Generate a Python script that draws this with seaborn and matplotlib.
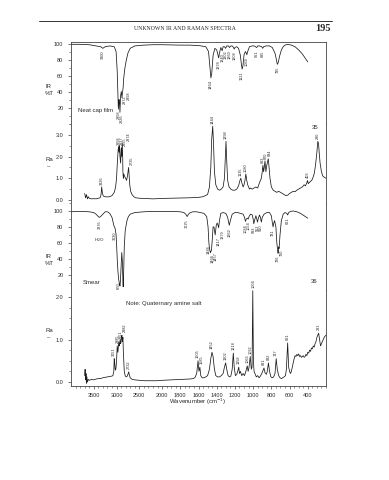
import numpy as np
import pandas as pd
import matplotlib
matplotlib.use("Agg")
import matplotlib.pyplot as plt
from matplotlib.lines import Line2D
from matplotlib.ticker import MultipleLocator, FixedLocator, NullFormatter
from matplotlib.transforms import offset_copy
import seaborn as sns

sns.set_theme(style="white")
plt.rcParams['font.family'] = ['Liberation Sans', 'DejaVu Sans']

# ---------------- data ----------------
# Spectrum 35, IR neat cap film (%T)
ir1_w = [4000, 3800, 3600, 3450, 3350, 3300, 3250, 3150, 3050, 3010, 2985, 2960, 2945, 2935, 2925, 2910,
         2895, 2880, 2872, 2862, 2855, 2845, 2820, 2790, 2750, 2700, 2600, 2400, 2200, 2000, 1800, 1700,
         1600, 1520, 1490, 1470, 1464, 1455, 1440, 1420, 1400, 1385, 1378, 1370, 1355, 1340, 1330, 1315,
         1302, 1290, 1270, 1260, 1245, 1230, 1215, 1208, 1200, 1180, 1160, 1140, 1130, 1121, 1112, 1100,
         1085, 1075, 1069, 1060, 1040, 1010, 990, 975, 961, 950, 930, 905, 895, 885, 860, 820, 790, 760,
         745, 735, 725, 710, 690, 670, 650, 620, 580, 540, 500, 460, 430, 400]
ir1_t = [99, 99, 98.5, 97, 96, 94, 96, 97, 96, 90, 65, 18, 30, 25, 14, 35,
         40, 32, 38, 42, 45, 55, 68, 78, 88, 94, 97, 98, 98.5, 98.5, 98, 98,
         97.5, 96, 90, 65, 57, 62, 85, 94, 92, 85, 82, 88, 95, 91, 96, 96,
         94, 97, 97, 95, 97, 97, 95, 93, 95, 96, 94, 85, 75, 68, 72, 86,
         90, 88, 86, 90, 96, 97, 97, 96, 95, 97, 97, 96, 94, 96, 97, 97, 95, 88,
         80, 74, 76, 84, 92, 96, 98, 99, 98, 96, 92, 87, 82, 77]
ir1_labels = [3300, 2958, 2926, 2872, 2858, 1464, 1378, 1340, 1302, 1260, 1208, 1121, 1069, 961, 895, 735]

# Spectrum 35, Raman
ra1_w = [3700, 3680, 3660, 3640, 3620, 3600, 3550, 3500, 3450, 3400, 3360, 3340, 3326, 3310, 3290, 3250,
         3200, 3150, 3100, 3050, 3020, 3000, 2985, 2965, 2955, 2945, 2935, 2925, 2910, 2900, 2895, 2885,
         2874, 2865, 2860, 2850, 2840, 2825, 2800, 2780, 2760, 2740, 2735, 2725, 2710, 2690, 2660, 2620,
         2580, 2500, 2400, 2300, 2200, 2100, 2000, 1900, 1800, 1700, 1600, 1550, 1500, 1480, 1465, 1455,
         1444, 1435, 1425, 1410, 1390, 1370, 1350, 1330, 1315, 1305, 1298, 1290, 1280, 1265, 1245, 1225,
         1200, 1180, 1160, 1145, 1135, 1125, 1110, 1100, 1090, 1080, 1070, 1060, 1050, 1040, 1030, 1010,
         990, 970, 950, 930, 910, 900, 893, 885, 878, 870, 860, 850, 840, 834, 825, 815, 800, 780, 760,
         740, 720, 700, 680, 660, 640, 620, 600, 580, 560, 540, 520, 500, 480, 460, 440, 425, 410, 403,
         395, 385, 370, 350, 330, 315, 300, 290, 282, 275, 265, 250, 235, 220, 200]
ra1_i = [0.3, 0.1, 0.25, 0.05, 0.15, 0.08, 0.05, 0.06, 0.05, 0.08, 0.1, 0.25, 0.6, 0.3, 0.18, 0.15,
         0.14, 0.15, 0.2, 0.35, 0.6, 1.0, 1.6, 2.3, 2.45, 2.2, 2.5, 2.0, 1.7, 2.3, 2.4, 2.0,
         2.6, 2.0, 1.3, 1.0, 1.2, 1.1, 1.0, 0.9, 1.1, 1.4, 1.5, 1.2, 0.7, 0.4, 0.25, 0.15,
         0.1, 0.08, 0.07, 0.06, 0.05, 0.06, 0.07, 0.08, 0.09, 0.1, 0.12, 0.15, 0.25, 0.6, 1.5, 2.8,
         3.4, 2.6, 1.3, 0.7, 0.5, 0.45, 0.5, 0.6, 1.0, 2.0, 2.7, 1.8, 0.9, 0.6, 0.5, 0.45,
         0.45, 0.5, 0.65, 0.9, 1.0, 0.8, 0.6, 0.7, 0.9, 1.2, 0.9, 0.7, 0.6, 0.5, 0.55, 0.5,
         0.55, 0.6, 0.55, 0.8, 1.0, 1.3, 1.6, 1.3, 1.5, 1.8, 1.3, 1.6, 1.8, 1.9, 1.5, 1.0, 0.6, 0.45, 0.4,
         0.35, 0.4, 0.35, 0.3, 0.25, 0.2, 0.22, 0.3, 0.35, 0.4, 0.38, 0.45, 0.5, 0.55, 0.6, 0.7, 0.65, 0.8, 0.9,
         0.75, 0.8, 0.85, 0.95, 1.2, 1.6, 2.2, 2.7, 2.6, 2.2, 1.7, 1.3, 1.1, 1.05, 1.0]
ra1_labels = [3326, 2958, 2937, 2895, 2874, 2735, 1444, 1298, 1135, 1080, 893, 870, 834, 403, 290]

# Spectrum 36, IR smear (%T)
ir2_w = [4000, 3800, 3600, 3500, 3450, 3400, 3376, 3350, 3300, 3250, 3200, 3150, 3100, 3060, 3030, 3010,
         3000, 2985, 2970, 2955, 2940, 2930, 2924, 2915, 2900, 2885, 2870, 2860, 2854, 2845, 2830, 2810,
         2790, 2770, 2740, 2700, 2600, 2400, 2200, 2000, 1900, 1800, 1760, 1740, 1725, 1710, 1690, 1660,
         1620, 1580, 1540, 1510, 1495, 1486, 1478, 1470, 1466, 1460, 1457, 1450, 1440, 1430, 1417, 1405,
         1395, 1385, 1379, 1370, 1355, 1330, 1300, 1280, 1262, 1250, 1230, 1200, 1170, 1140, 1110, 1095,
         1084, 1075, 1060, 1054, 1045, 1030, 1010, 1000, 993, 985, 970, 960, 952, 945, 930, 920, 910, 900,
         880, 850, 820, 800, 790, 781, 775, 765, 750, 740, 730, 726, 722, 720, 715, 705, 690, 670, 650,
         630, 621, 610, 590, 560, 520, 480, 440, 400]
ir2_t = [99, 99.5, 99, 98, 96, 93, 92, 93, 96, 99, 99, 97, 92, 82, 78, 70,
         60, 40, 25, 15, 10, 7, 6, 12, 30, 48, 35, 12, 5, 20, 55, 75,
         82, 88, 93, 96, 98, 99, 99.5, 99.5, 99.5, 99, 98, 96, 93, 96, 98, 99,
         99, 98, 97, 93, 80, 60, 52, 48, 49, 50, 52, 62, 80, 80, 70, 82,
         85, 82, 79, 88, 97, 98, 97, 92, 82, 88, 96, 98, 98, 97, 96, 92,
         87, 90, 91, 90, 93, 96, 95, 90, 84, 88, 94, 90, 86, 90, 95, 92, 86, 92,
         96, 98, 98, 94, 86, 80, 84, 88, 80, 60, 50, 47, 52, 55, 53, 70, 88, 96, 98,
         97, 95, 98, 99.5, 100, 99, 97, 94, 91]
ir2_labels = [3376, 3030, 2955, 2924, 2854, 1725, 1486, 1466, 1457, 1417, 1379, 1262, 1084, 1054, 993,
              952, 910, 781, 726, 720, 621]

# Spectrum 36, Raman
ra2_w = [3700, 3690, 3680, 3670, 3660, 3650, 3640, 3620, 3600, 3550, 3500, 3450, 3400, 3350, 3300, 3250,
         3200, 3150, 3100, 3080, 3060, 3051, 3040, 3030, 3020, 3010, 3000, 2985, 2970, 2960, 2951, 2940,
         2930, 2920, 2910, 2900, 2890, 2882, 2870, 2860, 2850, 2830, 2810, 2790, 2770, 2750, 2732, 2720,
         2700, 2680, 2650, 2600, 2500, 2400, 2300, 2200, 2100, 2000, 1900, 1800, 1700, 1660, 1640, 1620,
         1605, 1595, 1585, 1575, 1560, 1540, 1520, 1500, 1480, 1465, 1452, 1440, 1425, 1410, 1390, 1370,
         1350, 1330, 1315, 1302, 1290, 1275, 1260, 1245, 1230, 1218, 1208, 1195, 1180, 1170, 1158, 1150,
         1140, 1125, 1110, 1095, 1080, 1065, 1055, 1045, 1032, 1020, 1012, 1004, 997, 990, 980, 965, 950,
         935, 920, 905, 890, 881, 870, 855, 845, 832, 820, 805, 790, 775, 760, 747, 735, 720, 705, 690,
         675, 660, 645, 635, 621, 610, 600, 590, 580, 570, 560, 550, 540, 530, 520, 510, 500, 490, 480,
         470, 460, 450, 440, 430, 420, 410, 400, 390, 380, 370, 360, 350, 340, 330, 320, 310, 300, 290,
         281, 270, 260, 250, 240, 230, 220, 210, 200]
ra2_i = [0.15, 0.3, 0.05, 0.2, -0.03, 0.12, 0.0, 0.06, 0.04, 0.06, 0.05, 0.07, 0.08, 0.08, 0.1, 0.11,
         0.12, 0.13, 0.14, 0.15, 0.25, 0.55, 0.45, 0.3, 0.28, 0.35, 0.5, 0.85, 0.7, 0.85, 0.95, 0.85,
         0.9, 1.0, 0.9, 0.95, 1.05, 1.1, 0.95, 1.05, 0.7, 0.25, 0.15, 0.12, 0.13, 0.18, 0.24, 0.17,
         0.1, 0.08, 0.06, 0.05, 0.04, 0.03, 0.03, 0.03, 0.03, 0.04, 0.05, 0.06, 0.07, 0.08, 0.1, 0.2,
         0.5, 0.25, 0.35, 0.15, 0.1, 0.1, 0.12, 0.15, 0.3, 0.55, 0.7, 0.6, 0.3, 0.15, 0.12, 0.12,
         0.15, 0.2, 0.35, 0.45, 0.3, 0.15, 0.12, 0.14, 0.3, 0.68, 0.35, 0.15, 0.18, 0.25, 0.35, 0.2,
         0.25, 0.15, 0.2, 0.15, 0.25, 0.38, 0.25, 0.35, 0.6, 0.3, 0.35, 2.15, 0.5, 0.25, 0.2, 0.12, 0.15,
         0.1, 0.14, 0.2, 0.28, 0.33, 0.22, 0.18, 0.25, 0.45, 0.25, 0.12, 0.1, 0.12, 0.2, 0.55, 0.3, 0.15, 0.1, 0.08,
         0.1, 0.12, 0.15, 0.3, 0.92, 0.35, 0.25, 0.2, 0.25, 0.35, 0.45, 0.55, 0.62, 0.6, 0.65, 0.62, 0.66, 0.6, 0.62,
         0.58, 0.6, 0.62, 0.58, 0.6, 0.65, 0.62, 0.7, 0.68, 0.75, 0.72, 0.8, 0.78, 0.85, 0.82, 0.9, 0.95, 1.05, 1.1,
         1.15, 1.0, 0.85, 0.9, 0.95, 1.0, 1.05, 1.08, 1.1]
ra2_labels = [3051, 2985, 2951, 2882, 2732, 1605, 1585, 1452, 1302, 1218, 1158, 1065, 1032, 1004,
              881, 832, 747, 621, 281]

x_ticks = [3500, 3000, 2500, 2000, 1800, 1600, 1400, 1200, 1000, 800, 600, 400]

# ---------------- figure ----------------
W, H = 389, 480
fig = plt.figure(figsize=(W / 100, H / 100), dpi=100)
fig.patch.set_facecolor('white')


def fwd(w):
    w = np.asarray(w, dtype=float)
    return np.where(w > 2000, 2000 + (w - 2000) / 2.0, w)


def inv(u):
    u = np.asarray(u, dtype=float)
    return np.where(u > 2000, 2000 + (u - 2000) * 2.0, u)


def px_axes(top, bottom):
    left, right = 71, 326
    return fig.add_axes([left / W, 1 - bottom / H, (right - left) / W, (bottom - top) / H])


ink = '#1a1a1a'
txt = '#2a2a2a'
fs_tick = 4.0
fs_pk = 2.8
min_gap_px = 3.4   # minimum horizontal spacing between rotated peak labels

panels = [
    dict(top=42, bottom=124, w=ir1_w, y=ir1_t, lab=ir1_labels, kind='ir', ylim=(-0.6, 101.9)),
    dict(top=124, bottom=203, w=ra1_w, y=ra1_i, lab=ra1_labels, kind='ra1', ylim=(-0.14, 3.5)),
    dict(top=203, bottom=290, w=ir2_w, y=ir2_t, lab=ir2_labels, kind='ir', ylim=(1.0, 110)),
    dict(top=290, bottom=386, w=ra2_w, y=ra2_i, lab=ra2_labels, kind='ra2', ylim=(-0.094, 2.165)),
]

axes = []
for i, p in enumerate(panels):
    ax = px_axes(p['top'], p['bottom'])
    axes.append(ax)
    df = pd.DataFrame({'w': p['w'], 'v': p['y']})
    sns.lineplot(data=df, x='w', y='v', ax=ax, color=ink, lw=0.55, sort=False, estimator=None)
    ax.set_xscale('function', functions=(fwd, inv))
    ax.set_xlim(4000, 200)
    ax.set_ylim(*p['ylim'])
    ax.set_xlabel('')
    ax.set_ylabel('')
    ax.set_facecolor('white')
    for s in ax.spines.values():
        s.set_color('#444444')
        s.set_linewidth(0.6)
    if i > 0:
        ax.spines['top'].set_visible(False)
    if i < 3:
        ax.spines['bottom'].set_linestyle((0, (1, 3)))
        ax.spines['bottom'].set_linewidth(0.6)
        ax.set_xticks([])
        ax.xaxis.set_minor_locator(FixedLocator([]))
    # y ticks
    if p['kind'] == 'ir':
        ax.yaxis.set_major_locator(FixedLocator([20, 40, 60, 80, 100]))
        ax.yaxis.set_minor_locator(MultipleLocator(10))
        ax.set_yticklabels(['20', '40', '60', '80', '100'])
    elif p['kind'] == 'ra1':
        ax.yaxis.set_major_locator(FixedLocator([0, 1, 2, 3]))
        ax.yaxis.set_minor_locator(MultipleLocator(0.5))
        ax.set_yticklabels(['0.0', '1.0', '2.0', '3.0'])
    else:
        ax.yaxis.set_major_locator(FixedLocator([0, 1, 2]))
        ax.yaxis.set_minor_locator(MultipleLocator(0.25))
        ax.set_yticklabels(['0.0', '1.0', '2.0'])
    ax.tick_params(axis='y', which='major', left=True, length=2.5, width=0.5, color='#444444',
                   labelsize=fs_tick, labelcolor=txt, pad=3)
    ax.tick_params(axis='y', which='minor', left=True, length=1.5, width=0.4, color='#444444')

# draw peak labels (after scales are fixed) with simple horizontal de-overlap
fig.canvas.draw()
for ax, p in zip(axes, panels):
    wv = np.array(p['w'][::-1], dtype=float)
    vv = np.array(p['y'][::-1], dtype=float)
    ylo, yhi = p['ylim']
    span = yhi - ylo
    labs = sorted(p['lab'], reverse=True)
    xpix = [ax.transData.transform((lw_, 0))[0] for lw_ in labs]
    placed = []
    for k, xp in enumerate(xpix):
        if placed and xp < placed[-1] + min_gap_px:
            xp = placed[-1] + min_gap_px
        placed.append(xp)
    for lw_, xp, x0 in zip(labs, placed, xpix):
        v = np.interp(lw_, wv, vv)
        dx = (xp - x0) * 72.0 / fig.dpi
        tr = offset_copy(ax.transData, fig=fig, x=dx, y=0, units='points')
        if p['kind'] == 'ir':
            ax.text(lw_, v - 0.03 * span, str(lw_), rotation=90, ha='center', va='top',
                    fontsize=fs_pk, color=txt, transform=tr)
        else:
            ax.text(lw_, v + 0.03 * span, str(lw_), rotation=90, ha='center', va='bottom',
                    fontsize=fs_pk, color=txt, clip_on=False, transform=tr)

# bottom axis
axb = axes[3]
axb.xaxis.set_major_locator(FixedLocator(x_ticks))
axb.xaxis.set_minor_locator(FixedLocator(list(range(3900, 2000, -100)) + list(range(1950, 199, -50))))
axb.set_xticklabels([str(t) for t in x_ticks])
axb.xaxis.set_minor_formatter(NullFormatter())
axb.tick_params(axis='x', which='major', bottom=True, length=2.5, width=0.5, color='#444444',
                labelsize=fs_tick, labelcolor=txt, pad=2.5)
axb.tick_params(axis='x', which='minor', bottom=True, length=1.5, width=0.4, color='#444444')

# "H2O" under 3376
axes[2].text(3376, 68, 'H$_2$O', ha='center', va='top', fontsize=3.2, color=txt)

# panel annotations
axes[0].text(3850, 16, 'Neat cap film', fontsize=4.3, color=txt, va='center')
axes[1].text(320, 3.32, '35', fontsize=4.3, color=txt, ha='center', va='center')
axes[2].text(3750, 10.5, 'Smear', fontsize=4.3, color=txt, va='center')
axes[2].text(330, 12, '36', fontsize=4.3, color=txt, ha='center', va='center')
axes[3].text(2800, 1.85, 'Note: Quaternary amine salt', fontsize=4.3, color=txt, va='center')

# y axis titles
for yc, lines in [(90, ('IR', '%T')), (163, ('Ra', '\u2013')), (260, ('IR', '%T')), (334, ('Ra', '\u2013'))]:
    fig.text(49 / W, 1 - (yc - 3) / H, lines[0], ha='center', va='center', fontsize=4.3, color=txt)
    fig.text(49 / W, 1 - (yc + 3.5) / H, lines[1], ha='center', va='center', fontsize=4.3, color=txt)

fig.text(198 / W, 1 - 402 / H, 'Wavenumber (cm$^{-1}$)', ha='center', va='center', fontsize=4.3, color=txt)

# page header
fig.add_artist(Line2D([39 / W, 332 / W], [1 - 21 / H, 1 - 21 / H], color='#333333', lw=0.7))
fig.text(185 / W, 1 - 29 / H, 'UNKNOWN IR AND RAMAN SPECTRA', ha='center', va='center',
         fontsize=4.2, color=txt, family=['Liberation Serif', 'DejaVu Serif'])
fig.text(331 / W, 1 - 28.5 / H, '195', ha='right', va='center', fontsize=7.5, fontweight='bold',
         color=txt, family=['Liberation Serif', 'DejaVu Serif'])

fig.savefig('out.png', dpi=100, facecolor='white')
